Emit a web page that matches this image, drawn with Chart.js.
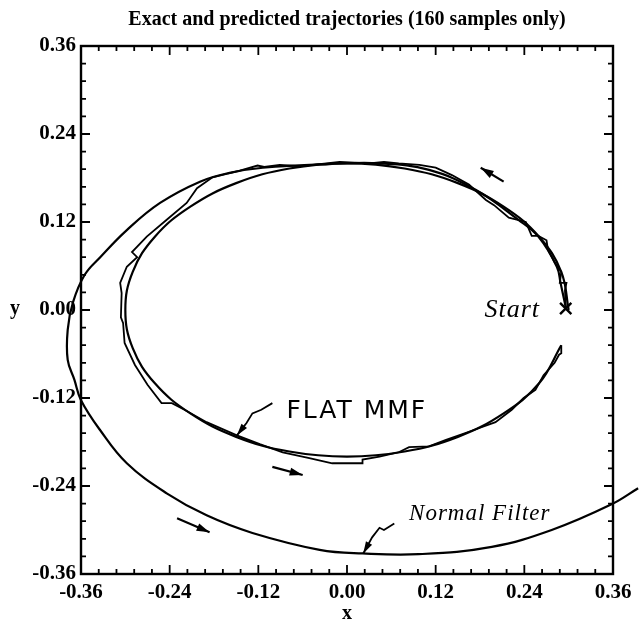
<!DOCTYPE html>
<html>
<head>
<meta charset="utf-8">
<script src="https://cdn.jsdelivr.net/npm/chart.js@4/dist/chart.umd.min.js"></script>
<style>
  html, body { margin: 0; padding: 0; background: #fff; }
</style>
</head>
<body>
<canvas id="trajChart" width="640" height="626"></canvas>
<script>
  // axis ticks (both axes)
  const tickValues = [-0.36, -0.24, -0.12, 0.0, 0.12, 0.24, 0.36];

  // exact trajectory (ellipse)
  const exactX = [0.300, 0.290, 0.260, 0.212, 0.150, 0.078, 0.000, -0.078, -0.150, -0.212, -0.260, -0.290,
                  -0.300, -0.290, -0.260, -0.212, -0.150, -0.078, 0.000, 0.078, 0.150, 0.212, 0.260, 0.290];
  const exactY = [0.000, 0.052, 0.100, 0.141, 0.173, 0.193, 0.200, 0.193, 0.173, 0.141, 0.100, 0.052,
                  0.000, -0.052, -0.100, -0.141, -0.173, -0.193, -0.200, -0.193, -0.173, -0.141, -0.100, -0.048];

  // FLAT MMF estimate (jagged)
  const mmfX = [0.296, 0.295, 0.297, 0.288, 0.290, 0.281, 0.272, 0.270, 0.259, 0.250, 0.242, 0.219, 0.199,
                0.188, 0.165, 0.142, 0.120, 0.098, 0.070, 0.050, 0.030, -0.010, -0.037, -0.064, -0.091,
                -0.112, -0.121, -0.145, -0.182, -0.203, -0.217, -0.244, -0.271, -0.291, -0.284, -0.298,
                -0.307, -0.305, -0.306, -0.303, -0.301, -0.287, -0.270, -0.251, -0.237, -0.220, -0.190,
                -0.149, -0.118, -0.087, -0.051, -0.020, 0.021, 0.021, 0.044, 0.070, 0.084, 0.111, 0.134,
                0.165, 0.201, 0.223, 0.239, 0.255, 0.266, 0.281, 0.287, 0.290, 0.290];
  const mmfY = [0.004, 0.027, 0.037, 0.037, 0.052, 0.065, 0.082, 0.095, 0.101, 0.101, 0.120, 0.126, 0.143,
                0.150, 0.171, 0.184, 0.194, 0.198, 0.200, 0.202, 0.200, 0.202, 0.199, 0.196, 0.198,
                0.195, 0.197, 0.190, 0.181, 0.166, 0.146, 0.123, 0.100, 0.079, 0.072, 0.059,
                0.037, 0.023, -0.010, -0.018, -0.045, -0.075, -0.102, -0.127, -0.127, -0.136, -0.153,
                -0.171, -0.183, -0.194, -0.202, -0.209, -0.209, -0.204, -0.200, -0.194, -0.187, -0.186, -0.177,
                -0.166, -0.153, -0.136, -0.120, -0.109, -0.089, -0.072, -0.061, -0.059, -0.048];

  // Normal filter estimate (spirals outward)
  const normalX = [0.296, 0.289, 0.284, 0.259, 0.232, 0.174, 0.111, 0.044, -0.024, -0.114, -0.159, -0.199,
                   -0.253, -0.298, -0.334, -0.355, -0.371, -0.378, -0.378, -0.369, -0.360, -0.334, -0.298,
                   -0.244, -0.190, -0.128, -0.037, 0.021, 0.097, 0.196, 0.277, 0.358, 0.394];
  const normalY = [0.004, 0.037, 0.059, 0.100, 0.123, 0.164, 0.191, 0.200, 0.199, 0.194, 0.187, 0.175,
                   0.146, 0.109, 0.072, 0.048, 0.010, -0.027, -0.068, -0.095, -0.123, -0.164, -0.209,
                   -0.250, -0.280, -0.304, -0.327, -0.332, -0.333, -0.323, -0.300, -0.265, -0.243];

  const startX = [0.296];
  const startY = [0.002];

  const toPts = (xs, ys) => xs.map((v, i) => ({ x: v, y: ys[i] }));

  // hand-drawn notes on the figure (data coordinates)
  const arrows = [
    { from: [0.212, 0.175], to: [0.181, 0.194] },
    { from: [-0.101, -0.214], to: [-0.060, -0.225] },
    { from: [-0.230, -0.284], to: [-0.186, -0.303] }
  ];
  const pointers = [
    [[-0.101, -0.127], [-0.116, -0.136], [-0.128, -0.141], [-0.136, -0.154], [-0.149, -0.171]],
    [[0.064, -0.291], [0.050, -0.300], [0.044, -0.297], [0.034, -0.310], [0.022, -0.332]]
  ];
  const notes = [
    { text: "FLAT MMF", at: [-0.082, -0.147], font: "25px 'DejaVu Sans'", spacing: "2px" },
    { text: "Normal Filter", at: [0.084, -0.286], font: "italic 23px 'Liberation Serif'", spacing: "1px" },
    { text: "Start", at: [0.186, -0.009], font: "italic 26px 'Liberation Serif'", spacing: "1px" }
  ];

  const serif = "'Liberation Serif', 'Times New Roman', serif";

  const framePlugin = {
    id: "frame",
    afterDraw(chart) {
      const { ctx, chartArea: a, scales: { x, y } } = chart;
      ctx.save();
      ctx.strokeStyle = "#000";
      ctx.fillStyle = "#000";
      ctx.lineWidth = 2.4;
      ctx.strokeRect(a.left, a.top, a.right - a.left, a.bottom - a.top);

      // inward ticks on all four sides, 4 minor between majors
      ctx.lineWidth = 1.8;
      ctx.beginPath();
      for (let i = 0; i < tickValues.length; i++) {
        const vals = [[tickValues[i], 9]];
        if (i < tickValues.length - 1) {
          const d = (tickValues[i + 1] - tickValues[i]) / 5;
          for (let k = 1; k < 5; k++) vals.push([tickValues[i] + k * d, 5]);
        }
        vals.forEach(([v, len]) => {
          const px = x.getPixelForValue(v);
          const py = y.getPixelForValue(v);
          ctx.moveTo(px, a.bottom); ctx.lineTo(px, a.bottom - len);
          ctx.moveTo(px, a.top); ctx.lineTo(px, a.top + len);
          ctx.moveTo(a.left, py); ctx.lineTo(a.left + len, py);
          ctx.moveTo(a.right, py); ctx.lineTo(a.right - len, py);
        });
      }
      ctx.stroke();

      // y axis title, not rotated
      ctx.font = "bold 20px " + serif;
      ctx.textAlign = "center";
      ctx.textBaseline = "middle";
      ctx.fillText("y", 15, y.getPixelForValue(0) - 1);

      // arrows along the curves
      ctx.lineWidth = 2.2;
      arrows.forEach(ar => {
        const x0 = x.getPixelForValue(ar.from[0]), y0 = y.getPixelForValue(ar.from[1]);
        const x1 = x.getPixelForValue(ar.to[0]), y1 = y.getPixelForValue(ar.to[1]);
        ctx.beginPath(); ctx.moveTo(x0, y0); ctx.lineTo(x1, y1); ctx.stroke();
        const ang = Math.atan2(y1 - y0, x1 - x0);
        ctx.beginPath();
        ctx.moveTo(x1, y1);
        ctx.lineTo(x1 - 13 * Math.cos(ang) + 4 * Math.sin(ang), y1 - 13 * Math.sin(ang) - 4 * Math.cos(ang));
        ctx.lineTo(x1 - 13 * Math.cos(ang) - 4 * Math.sin(ang), y1 - 13 * Math.sin(ang) + 4 * Math.cos(ang));
        ctx.closePath(); ctx.fill();
      });

      // squiggly pointers to the labels
      ctx.lineWidth = 1.8;
      pointers.forEach(p => {
        ctx.beginPath();
        p.forEach(([vx, vy], i) => {
          const px = x.getPixelForValue(vx), py = y.getPixelForValue(vy);
          if (i === 0) ctx.moveTo(px, py); else ctx.lineTo(px, py);
        });
        ctx.stroke();
        const n = p.length;
        const xa = x.getPixelForValue(p[n - 2][0]), ya = y.getPixelForValue(p[n - 2][1]);
        const xb = x.getPixelForValue(p[n - 1][0]), yb = y.getPixelForValue(p[n - 1][1]);
        const ang = Math.atan2(yb - ya, xb - xa);
        ctx.beginPath();
        ctx.moveTo(xb, yb);
        ctx.lineTo(xb - 12 * Math.cos(ang) + 3.5 * Math.sin(ang), yb - 12 * Math.sin(ang) - 3.5 * Math.cos(ang));
        ctx.lineTo(xb - 12 * Math.cos(ang) - 3.5 * Math.sin(ang), yb - 12 * Math.sin(ang) + 3.5 * Math.cos(ang));
        ctx.closePath(); ctx.fill();
      });

      ctx.textAlign = "left";
      ctx.textBaseline = "alphabetic";
      notes.forEach(nt => {
        ctx.font = nt.font;
        ctx.letterSpacing = nt.spacing;
        ctx.fillText(nt.text, x.getPixelForValue(nt.at[0]), y.getPixelForValue(nt.at[1]));
      });
      ctx.restore();
    }
  };

  const lineSet = (data, tension, width) => ({
    data: data,
    showLine: true,
    borderColor: "#000",
    backgroundColor: "#000",
    borderWidth: width,
    pointRadius: 0,
    tension: tension,
    clip: false
  });

  const ctx = document.getElementById("trajChart").getContext("2d");
  const trajChart = new Chart(ctx, {
    type: "scatter",
    data: {
      datasets: [
        Object.assign(lineSet(toPts(exactX, exactY), 0.4, 2.2), { label: "Exact" }),
        Object.assign(lineSet(toPts(mmfX, mmfY), 0, 1.8), { label: "FLAT MMF" }),
        Object.assign(lineSet(toPts(normalX, normalY), 0.4, 2.2), { label: "Normal Filter" }),
        {
          label: "Start",
          data: toPts(startX, startY),
          pointStyle: "crossRot",
          pointRadius: 8,
          borderWidth: 2.4,
          borderColor: "#000",
          showLine: false,
          clip: false
        }
      ]
    },
    options: {
      responsive: false,
      animation: false,
      layout: { padding: { top: 0, right: 27, bottom: 0, left: 0 } },
      plugins: {
        legend: { display: false },
        tooltip: { enabled: false },
        title: {
          display: true,
          text: "Exact and predicted trajectories (160 samples only)",
          fullSize: false,
          color: "#000",
          font: { family: serif, size: 20, weight: "bold", lineHeight: 1.2 },
          padding: { top: 8, bottom: 14 }
        }
      },
      scales: {
        x: {
          type: "linear",
          min: -0.36,
          max: 0.36,
          afterBuildTicks: s => { s.ticks = tickValues.map(v => ({ value: v })); },
          afterFit: s => { s.height = 52; },
          grid: { display: false, drawTicks: false },
          border: { display: false },
          ticks: {
            color: "#000",
            padding: 8,
            maxRotation: 0,
            font: { family: serif, size: 21, weight: "bold", lineHeight: 1.0 },
            callback: v => (Math.abs(v) < 1e-9 ? 0 : v).toFixed(2)
          },
          title: {
            display: true,
            text: "x",
            color: "#000",
            font: { family: serif, size: 20, weight: "bold", lineHeight: 1.0 },
            padding: { top: 0, bottom: 2 }
          }
        },
        y: {
          type: "linear",
          min: -0.36,
          max: 0.36,
          afterBuildTicks: s => { s.ticks = tickValues.map(v => ({ value: v })); },
          afterFit: s => { s.width = 81; },
          grid: { display: false, drawTicks: false },
          border: { display: false },
          ticks: {
            color: "#000",
            padding: 5,
            font: { family: serif, size: 21, weight: "bold" },
            callback: v => (Math.abs(v) < 1e-9 ? 0 : v).toFixed(2)
          }
        }
      }
    },
    plugins: [framePlugin]
  });
</script>
</body>
</html>
